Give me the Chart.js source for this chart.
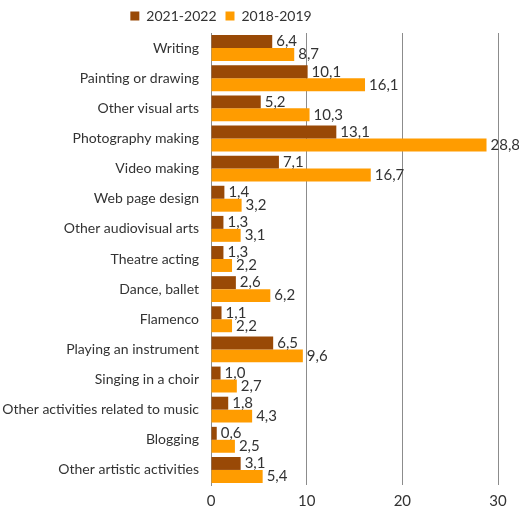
<!DOCTYPE html>
<html>
<head>
<meta charset="utf-8">
<script src="https://cdn.jsdelivr.net/npm/chart.js@4/dist/chart.umd.min.js"></script>
<style>
  html, body { margin: 0; padding: 0; background: #fff; }
  #wrap { width: 519px; height: 509px; }
</style>
</head>
<body>
<div id="wrap"><canvas id="chart"></canvas></div>
<script>
'use strict';

const activities = [
  'Writing', 'Painting or drawing', 'Other visual arts', 'Photography making',
  'Video making', 'Web page design', 'Other audiovisual arts', 'Theatre acting',
  'Dance, ballet', 'Flamenco', 'Playing an instrument', 'Singing in a choir',
  'Other activities related to music', 'Blogging', 'Other artistic activities',
];
const values2122 = [6.4, 10.1, 5.2, 13.1, 7.1, 1.4, 1.3, 1.3, 2.6, 1.1, 6.5, 1.0, 1.8, 0.6, 3.1];
const values1819 = [8.7, 16.1, 10.3, 28.8, 16.7, 3.2, 3.1, 2.2, 6.2, 2.2, 9.6, 2.7, 4.3, 2.5, 5.4];
const xTicks = [0, 10, 20, 30];

const fontFamily = 'Lato, "Open Sans", sans-serif';
const textColor = '#333';

Chart.defaults.font.family = fontFamily;
Chart.defaults.color = textColor;

// writes each value (comma decimal) just past the end of its bar
const valueLabels = {
  id: 'valueLabels',
  afterDatasetsDraw(chart) {
    const ctx = chart.ctx;
    ctx.save();
    ctx.font = '15px ' + fontFamily;
    ctx.fillStyle = textColor;
    ctx.textAlign = 'left';
    ctx.textBaseline = 'middle';
    chart.data.datasets.forEach((ds, i) => {
      chart.getDatasetMeta(i).data.forEach((bar, j) => {
        const text = ds.data[j].toFixed(1).replace('.', ',');
        ctx.fillText(text, bar.x + 4, bar.y);
      });
    });
    ctx.restore();
  },
};

// the legend sits a little left of centre
const legendShift = {
  id: 'legendShift',
  afterLayout(chart) {
    chart.legend.left -= 28;
    chart.legend.right -= 28;
  },
};

new Chart(document.getElementById('chart'), {
  type: 'bar',
  data: {
    labels: activities,
    datasets: [
      {
        label: '2021-2022',
        data: values2122,
        backgroundColor: '#994906',
        categoryPercentage: 0.86,
        barPercentage: 1.0,
      },
      {
        label: '2018-2019',
        data: values1819,
        backgroundColor: '#ff9c00',
        categoryPercentage: 0.86,
        barPercentage: 1.0,
      },
    ],
  },
  options: {
    indexAxis: 'y',
    responsive: true,
    maintainAspectRatio: false,
    animation: false,
    layout: {
      padding: {top: 0, right: 21, bottom: 0, left: 0},
    },
    scales: {
      x: {
        min: 0,
        max: 30,
        afterBuildTicks: (axis) => { axis.ticks = xTicks.map(v => ({value: v})); },
        afterFit: (axis) => { axis.height = 24; },
        grid: {
          color: '#8c8c8c',
          drawTicks: false,
          lineWidth: 1,
        },
        border: {display: false},
        ticks: {
          padding: 7,
          font: {size: 15},
          color: textColor,
        },
      },
      y: {
        afterFit: (axis) => { axis.width = 211; },
        grid: {display: false},
        border: {display: true, color: '#8c8c8c'},
        ticks: {
          padding: 4,
          font: {size: 14},
          color: textColor,
        },
      },
    },
    plugins: {
      legend: {
        display: true,
        position: 'top',
        labels: {
          boxWidth: 9,
          boxHeight: 9,
          padding: 9,
          font: {size: 14},
          color: textColor,
        },
      },
      tooltip: {enabled: false},
    },
  },
  plugins: [valueLabels, legendShift],
});
</script>
</body>
</html>
